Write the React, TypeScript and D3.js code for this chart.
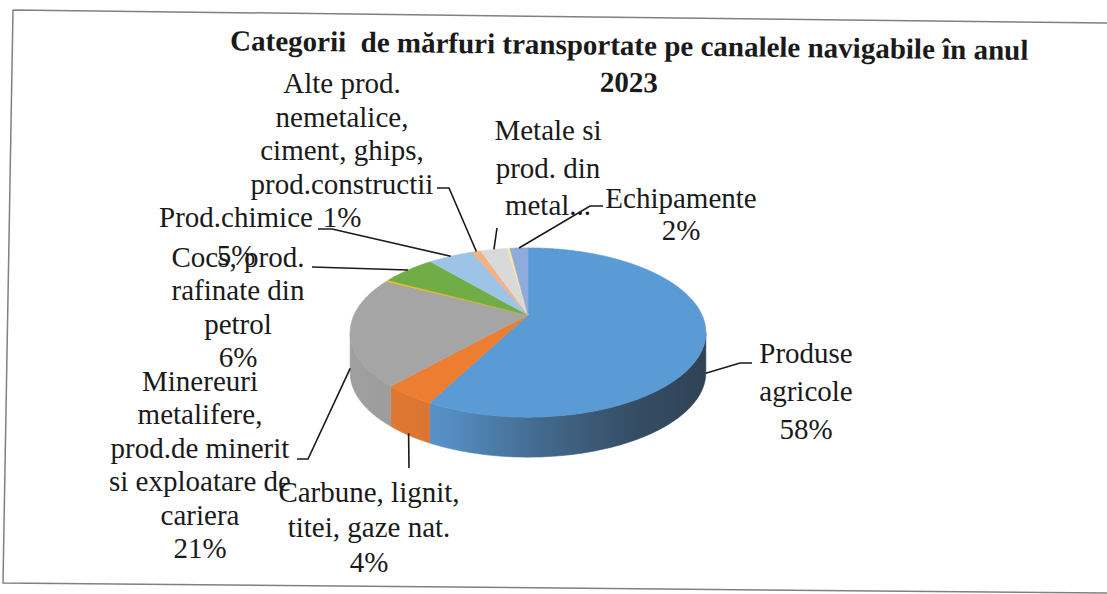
import * as d3 from "d3";
import React, { useEffect, useRef } from "react";

// categorii (in ordinea din grafic, pornind de la ora 12, in sensul acelor de ceasornic)
const categories = [
  "Produse agricole",
  "Carbune, lignit, titei, gaze nat.",
  "Minereuri metalifere, prod.de minerit si exploatare de cariera",
  "Alte categorii (sub 1%)",
  "Cocs, prod. rafinate din petrol",
  "Prod.chimice",
  "Alte prod. nemetalice, ciment, ghips, prod.constructii",
  "Metale si prod. din metal",
  "Alte categorii (sub 1%) 2",
  "Echipamente",
];

// procente
const values = [58, 4, 21, 0.3, 6, 5, 1, 3, 0.3, 2];

const sliceColors = [
  "#5b9bd5",
  "#ed7d31",
  "#a5a5a5",
  "#ffc000",
  "#70ad47",
  "#9dc3e6",
  "#f4b183",
  "#d9d9d9",
  "#ffe699",
  "#8faadc",
];

// textul etichetelor, pe randuri
const labelLines: string[][] = [
  ["Produse", "agricole"],
  ["Carbune, lignit,", "titei, gaze nat."],
  ["Minereuri", "metalifere,", "prod.de minerit", "si exploatare de", "cariera"],
  [],
  ["Cocs, prod.", "rafinate din", "petrol"],
  ["Prod.chimice"],
  ["Alte prod.", "nemetalice,", "ciment, ghips,", "prod.constructii"],
  ["Metale si", "prod. din", "metal..."],
  [],
  ["Echipamente"],
];
const showPercent = [true, true, true, false, true, true, true, false, false, true];

const titleLines = [
  "Categorii  de mărfuri transportate pe canalele navigabile în anul",
  "2023",
];

// pozitia etichetelor (centru text, prima linie de baza, interlinie, puncte ale liniei de legatura)
type Layout = { x: number; y: number; lh: number; leader: [number, number][] };
const labelLayout: (Layout | null)[] = [
  { x: 806, y: 363, lh: 38, leader: [[752, 363], [740, 363]] },
  { x: 369, y: 502, lh: 35, leader: [[409, 468]] },
  { x: 200, y: 391, lh: 33.4, leader: [[297, 459], [308, 459]] },
  null,
  { x: 238, y: 267, lh: 33.3, leader: [[312, 267]] },
  { x: 236, y: 227, lh: 38, leader: [[318, 229], [332, 229]] },
  { x: 342, y: 93, lh: 33.5, leader: [[437, 188], [449, 188]] },
  { x: 548, y: 140, lh: 37.5, leader: [[497, 228]] },
  null,
  { x: 681, y: 208, lh: 32, leader: [[603, 206], [590, 206]] },
];

const W = 1107;
const H = 594;
const FONT = "Liberation Serif, Times New Roman, serif";

export default function App() {
  const svgRef = useRef<SVGSVGElement | null>(null);

  useEffect(() => {
    if (!svgRef.current) return;
    const svg = d3.select(svgRef.current);
    svg.selectAll("*").remove();

    // geometria pie 3D (perspectiva simpla)
    const cx = 528;
    const cy = 315;
    const rx = 174;
    const ry = 81;
    const persp = 0.207;
    const depth = 40;

    const proj = (theta: number, drop = 0): [number, number] => {
      const X = Math.sin(theta);
      const Z = -Math.cos(theta);
      const w = 1 - persp * Z;
      return [cx + (rx * X) / w, cy + (ry * Z) / w + drop];
    };

    const rim = (a0: number, a1: number, drop = 0) => {
      const n = Math.max(2, Math.ceil(((a1 - a0) * 180) / Math.PI));
      return d3.range(n + 1).map((k) => proj(a0 + ((a1 - a0) * k) / n, drop));
    };

    const pie = d3
      .pie<number>()
      .sort(null)
      .value((d) => d)
      .startAngle(0)
      .endAngle(2 * Math.PI);
    const arcs = pie(values);

    const line = d3.line();

    // fundal + chenar scanat
    svg.append("rect").attr("width", W).attr("height", H).attr("fill", "#ffffff");
    svg
      .append("path")
      .attr("d", "M13,10 L1107,23 M13,10 L3,583 L1107,593")
      .attr("fill", "none")
      .attr("stroke", "#808080")
      .attr("stroke-width", 1.5);

    // titlu
    const title = svg
      .append("g")
      .attr("transform", "rotate(0.7, 629, 70)")
      .style("font-family", FONT)
      .style("font-weight", "bold")
      .style("font-size", "29px")
      .style("white-space", "pre")
      .attr("fill", "#1a1a1a")
      .attr("text-anchor", "middle");
    titleLines.forEach((t, i) => {
      title
        .append("text")
        .attr("x", 629)
        .attr("y", 55 + i * 37)
        .attr("xml:space", "preserve")
        .text(t);
    });

    // gradient pentru peretii laterali
    const defs = svg.append("defs");
    const dark = "#26303a";
    arcs.forEach((a, i) => {
      const g = defs
        .append("linearGradient")
        .attr("id", `wall-${i}`)
        .attr("gradientUnits", "userSpaceOnUse")
        .attr("x1", cx - rx)
        .attr("x2", cx + rx)
        .attr("y1", 0)
        .attr("y2", 0);
      const mix = d3.interpolateRgb(sliceColors[i], dark);
      [
        [0, 0.05],
        [0.25, 0.1],
        [0.55, 0.48],
        [0.8, 0.72],
        [1, 0.82],
      ].forEach(([o, m]) => {
        g.append("stop").attr("offset", o).attr("stop-color", mix(m));
      });
    });

    // peretii (partea vizibila din fata)
    const tR = Math.PI / 2 + Math.asin(persp);
    const tL = (3 * Math.PI) / 2 - Math.asin(persp);
    const walls = svg.append("g");
    arcs.forEach((a, i) => {
      const t0 = Math.max(a.startAngle, tR);
      const t1 = Math.min(a.endAngle, tL);
      if (t1 <= t0) return;
      const pts = [...rim(t0, t1, 0), ...rim(t0, t1, depth).reverse()];
      walls
        .append("path")
        .attr("d", line(pts) + "Z")
        .attr("fill", `url(#wall-${i})`)
        .attr("stroke", `url(#wall-${i})`)
        .attr("stroke-width", 0.6);
    });

    // fata de sus
    const apex: [number, number] = [cx, cy];
    const tops = svg.append("g");
    arcs.forEach((a, i) => {
      const pts = [apex, ...rim(a.startAngle, a.endAngle, 0)];
      tops
        .append("path")
        .attr("d", line(pts) + "Z")
        .attr("fill", sliceColors[i])
        .attr("stroke", sliceColors[i])
        .attr("stroke-width", 0.6);
    });

    // linii de legatura + etichete
    const labels = svg
      .append("g")
      .style("font-family", FONT)
      .style("font-size", "29px")
      .style("font-weight", "normal")
      .attr("fill", "#1a1a1a")
      .attr("text-anchor", "middle");

    arcs.forEach((a, i) => {
      const lay = labelLayout[i];
      if (!lay) return;
      const mid = (a.startAngle + a.endAngle) / 2;
      const front = mid > (95 * Math.PI) / 180 && mid < (265 * Math.PI) / 180;
      const anchor = proj(mid, front ? depth - 2 : 0);

      labels
        .append("path")
        .attr("d", line([...lay.leader, anchor]))
        .attr("fill", "none")
        .attr("stroke", "#1a1a1a")
        .attr("stroke-width", 1.6);

      const lines = [...labelLines[i]];
      if (showPercent[i]) lines.push(`${Math.round(values[i])}%`);
      lines.forEach((t, k) => {
        labels
          .append("text")
          .attr("x", lay.x)
          .attr("y", lay.y + k * lay.lh)
          .text(t);
      });
    });
  }, []);

  return (
    <svg
      ref={svgRef}
      width={W}
      height={H}
      style={{ position: "absolute", left: 0, top: 0, display: "block" }}
    ></svg>
  );
}
